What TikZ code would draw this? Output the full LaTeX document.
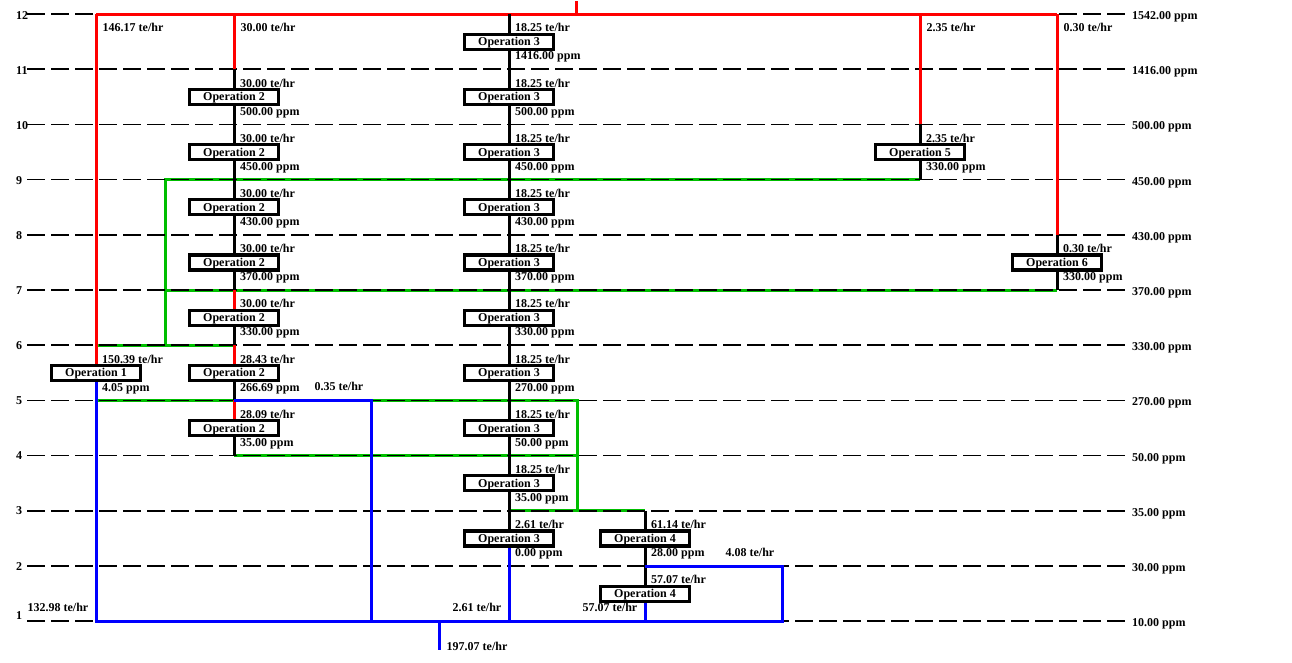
\documentclass[tikz,border=0pt]{standalone}
\usepackage{fontspec}
\setmainfont{Liberation Serif}
\usetikzlibrary{positioning,calc,backgrounds}
\definecolor{PipeRed}{RGB}{255,0,0}
\definecolor{PipeGreen}{RGB}{0,190,0}
\definecolor{PipeBlue}{RGB}{0,0,255}
\tikzset{
  pipe/.style={line width=3pt},
  fresh/.style={pipe,draw=PipeRed},
  reuse/.style={pipe,draw=PipeGreen},
  waste/.style={pipe,draw=PipeBlue},
  inner/.style={pipe,draw=black},
  gridline/.style={draw=black,line width=1.6pt,dash pattern=on 18pt off 6pt},
  opbox/.style={draw=black,fill=white,line width=3.2pt,inner sep=0pt,
    minimum width=89pt,minimum height=15pt,text height=8pt,text depth=0pt,
    font=\fontsize{12}{14}\selectfont\bfseries},
}
\tikzset{lab/.style={font=\fontsize{12}{14}\selectfont\bfseries,inner sep=0pt},
  flowin/.style={lab,anchor=base west,xshift=6pt,yshift=9.8pt},
  concout/.style={lab,anchor=base west,xshift=6pt,yshift=-18.2pt},
  flowleft/.style={lab,anchor=base east,xshift=-7.5pt,yshift=9.5pt},
  toplab/.style={lab,anchor=base west,xshift=6.5pt,yshift=-17pt}}

\begin{document}
\begin{tikzpicture}[x=1pt,y=-1pt]
\useasboundingbox (0,0) rectangle (1292,662);
% concentration levels
\foreach \k in {1,...,12}
  \coordinate (L\k) at (0,{14+(12-\k)*55.2});
% columns
\coordinate (cA) at (96,0);
\coordinate (cB) at (234,0);
\coordinate (cC) at (509,0);
\coordinate (cD) at (645,0);
\coordinate (cE) at (920,0);
\coordinate (cF) at (1057,0);
\coordinate (cG) at (165,0);
\coordinate (cH) at (371,0);
\coordinate (cK) at (577,0);
\coordinate (cM) at (782,0);
\coordinate (cN) at (439,0);
\coordinate (gl) at (27,0);
\coordinate (gr) at (1125,0);
\coordinate (nl) at (16,0);
\coordinate (pl) at (1132,0);
\coordinate (src) at (576,1);
\coordinate (sink) at (439,650);

% operations
\node[opbox] (o1) at (96,372.8) {Operation 1};
\node[flowin] (f1) at (o1) {150.39 te/hr};
\node[concout] (p1) at (o1) {4.05 ppm};
\foreach \y/\f/\c [count=\i] in {96.8/30.00/500.00,152/30.00/450.00,207.2/30.00/430.00,
    262.4/30.00/370.00,317.6/30.00/330.00,372.8/28.43/266.69,428/28.09/35.00}{
  \node[opbox] (o2-\i) at (234,\y) {Operation 2};
  \node[flowin] (f2-\i) at (o2-\i) {\f\ te/hr};
  \node[concout] (p2-\i) at (o2-\i) {\c\ ppm};
}
\foreach \y/\f/\c [count=\i] in {41.6/18.25/1416.00,96.8/18.25/500.00,152/18.25/450.00,
    207.2/18.25/430.00,262.4/18.25/370.00,317.6/18.25/330.00,372.8/18.25/270.00,
    428/18.25/50.00,483.2/18.25/35.00,538.4/2.61/0.00}{
  \node[opbox] (o3-\i) at (509,\y) {Operation 3};
  \node[flowin] (f3-\i) at (o3-\i) {\f\ te/hr};
  \node[concout] (p3-\i) at (o3-\i) {\c\ ppm};
}
\node[opbox] (o4-1) at (645,538.4) {Operation 4};
\node[flowin] (f4-1) at (o4-1) {61.14 te/hr};
\node[concout] (p4-1) at (o4-1) {28.00 ppm};
\node[opbox] (o4-2) at (645,593.6) {Operation 4};
\node[flowin] (f4-2) at (o4-2) {57.07 te/hr};
\node[opbox] (o5) at (920,152) {Operation 5};
\node[flowin] (f5) at (o5) {2.35 te/hr};
\node[concout] (p5) at (o5) {330.00 ppm};
\node[opbox] (o6) at (1057,262.4) {Operation 6};
\node[flowin] (f6) at (o6) {0.30 te/hr};
\node[concout] (p6) at (o6) {330.00 ppm};

\begin{scope}[on background layer]
% reuse
\draw[reuse] (cE |- L9) -- (cG |- L9) -- (cG |- L6);
\draw[reuse] (cF |- L7) -- (cG |- L7);
\draw[reuse] (cA |- L6) -- (cB |- L6);
\draw[reuse] (cA |- L5) -- (cB |- L5);
\draw[reuse] (cH |- L5) -- (cK |- L5) -- (cK |- L3);
\draw[reuse] (cC |- L3) -- (cD |- L3);
\draw[reuse] (cB |- L4) -- (cK |- L4);
% dashed levels
\foreach \k in {1,...,12}
  \draw[gridline] (gl |- L\k) -- (gr |- L\k);
% fresh water
\draw[fresh] (src) -- (src |- L12);
\draw[fresh] (cA |- L12) -- (cF |- L12);
\draw[fresh] (cA |- L12) -- (o1.north);
\draw[fresh] (cB |- L12) -- (cB |- L11);
\draw[fresh] (cE |- L12) -- (cE |- L10);
\draw[fresh] (cF |- L12) -- (cF |- L8);
% operation streams
\draw[inner] (cB |- L11) -- (cB |- L4);
\draw[fresh] (cB |- L7) -- (o2-5.north);
\draw[fresh] (cB |- L6) -- (o2-6.north);
\draw[fresh] (cB |- L5) -- (o2-7.north);
\draw[inner] (cC |- L12) -- (o3-10.south);
\draw[inner] (cD |- L3) -- (o4-2.south);
\draw[inner] (cE |- L10) -- (cE |- L9);
\draw[inner] (cF |- L8) -- (cF |- L7);
% wastewater
\draw[waste] (o1.south) -- (cA |- L1) -- (cM |- L1) -- (cM |- L2) -- (cD |- L2);
\draw[waste] (cB |- L5) -- (cH |- L5) -- (cH |- L1);
\draw[waste] (o3-10.south) -- (cC |- L1);
\draw[waste] (o4-2.south) -- (cD |- L1);
\draw[waste] (cN |- L1) -- (sink);
\end{scope}

% level numbers and concentrations
\foreach \k/\c in {12/1542.00,11/1416.00,10/500.00,9/450.00,8/430.00,7/370.00,
    6/330.00,5/270.00,4/50.00,3/35.00,2/30.00,1/10.00}{
  \node[lab,anchor=base west,yshift=-5.5pt] (c\k) at (pl |- L\k) {\c\ ppm};
}
\foreach \k/\d in {12/-5.5,11/-5.5,10/-5.5,9/-4.5,8/-4.5,7/-4.5,6/-4.5,5/-4.5,
    4/-4,3/-4,2/-4,1/2}{
  \node[lab,anchor=base west,yshift=\d pt] (n\k) at (nl |- L\k) {\k};
}

% stream flows
\node[toplab] (t1) at (cA |- L12) {146.17 te/hr};
\node[toplab] (t2) at (cB |- L12) {30.00 te/hr};
\node[toplab] (t5) at (cE |- L12) {2.35 te/hr};
\node[toplab] (t6) at (cF |- L12) {0.30 te/hr};
\node[flowleft] (w1) at (cA |- L1) {132.98 te/hr};
\node[flowleft] (w3) at (cC |- L1) {2.61 te/hr};
\node[flowleft] (w4) at (cD |- L1) {57.07 te/hr};
\node[flowleft] (w2) at (cH |- L5) {0.35 te/hr};
\node[flowleft] (w5) at (cM |- L2) {4.08 te/hr};
\node[lab,anchor=base west,xshift=7.5pt] (wout) at (sink) {197.07 te/hr};
\end{tikzpicture}
\end{document}
